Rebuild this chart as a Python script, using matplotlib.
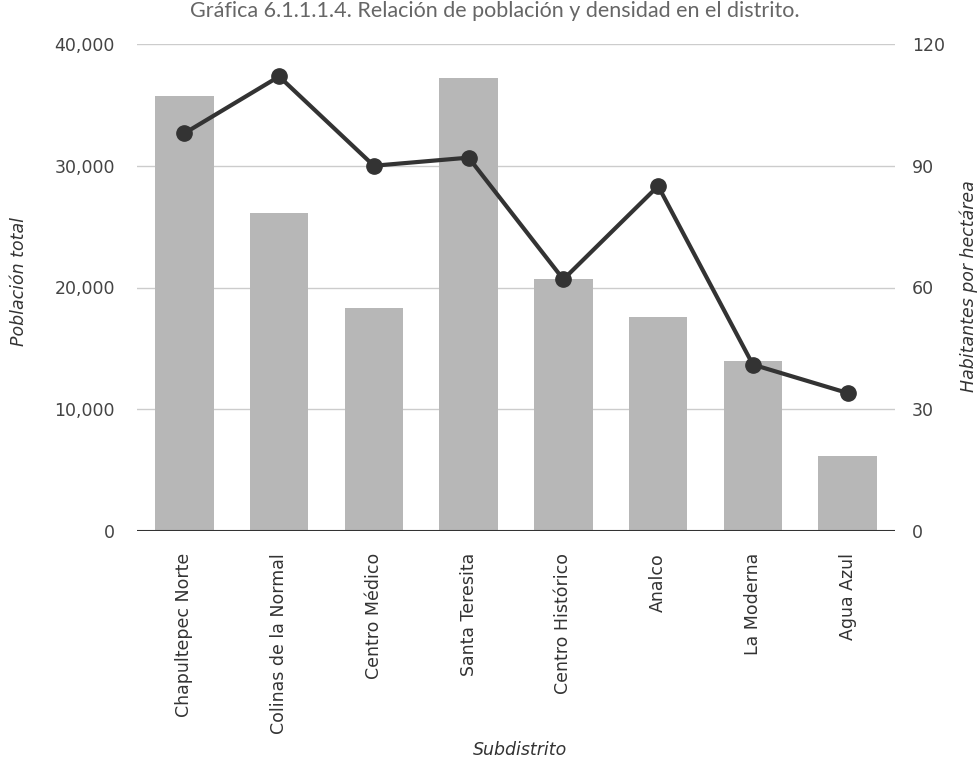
import matplotlib
matplotlib.use("Agg")
import matplotlib.pyplot as plt
from matplotlib.ticker import FuncFormatter

subdistritos = ["Chapultepec Norte", "Colinas de la Normal", "Centro Médico",
                "Santa Teresita", "Centro Histórico", "Analco", "La Moderna",
                "Agua Azul"]
poblacion = [35700, 26100, 18300, 37200, 20700, 17600, 14000, 6200]
densidad = [98, 112, 90, 92, 62, 85, 41, 34]
ticks_pob = [0, 10000, 20000, 30000, 40000]
ticks_dens = [0, 30, 60, 90, 120]

W, H = 979, 761
FONT = "DejaVu Sans"
fig = plt.figure(figsize=(W / 100, H / 100), dpi=100)
ax = fig.add_axes([137 / W, 1 - 531 / H, (895 - 137) / W, (531 - 44) / H])
ax2 = ax.twinx()

x = list(range(len(subdistritos)))
ax.bar(x, poblacion, width=0.62, color="#b7b7b7", zorder=2)
ax.set_xlim(-0.5, len(subdistritos) - 0.5)
ax.set_ylim(0, 40000)
ax.set_yticks(ticks_pob)
ax.yaxis.set_major_formatter(FuncFormatter(lambda v, p: f"{int(v):,}"))
ax.grid(axis="y", color="#cccccc", linewidth=1, zorder=0)
ax.set_axisbelow(True)

ax2.plot(x, densidad, color="#333333", linewidth=3, marker="o",
         markersize=11, markerfacecolor="#333333", zorder=5)
ax2.set_ylim(0, 120)
ax2.set_yticks(ticks_dens)
ax.set_zorder(ax2.get_zorder() - 1)
ax2.patch.set_visible(False)

for a in (ax, ax2):
    for s in a.spines.values():
        s.set_visible(False)
    a.tick_params(axis="y", length=0, labelsize=12.5, labelcolor="#444444",
                  labelfontfamily=FONT)
ax.tick_params(axis="y", pad=16)
ax2.tick_params(axis="y", pad=12)
ax.axhline(0, color="#333333", linewidth=1.5, zorder=4)

ax.set_xticks(x)
ax.set_xticklabels(subdistritos, rotation=90, va="top", ha="center",
                   fontsize=12.5, color="#333333", family=FONT)
ax.tick_params(axis="x", length=0, pad=16)

label_kw = dict(fontsize=12.5, style="italic", color="#333333", family=FONT,
                ha="center", va="center")
fig.text(19 / W, 1 - 281 / H, "Población total", rotation=90, **label_kw)
fig.text(969 / W, 1 - 286 / H, "Habitantes por hectárea", rotation=90,
         **label_kw)
fig.text(520 / W, 1 - 750 / H, "Subdistrito", **label_kw)
fig.text(495 / W, 1 - 11 / H,
         "Gráfica 6.1.1.1.4. Relación de población y densidad en el distrito.",
         ha="center", va="center", fontsize=15.5, color="#666666",
         family="Lato")

fig.savefig("out.png", dpi=100, facecolor="white")
